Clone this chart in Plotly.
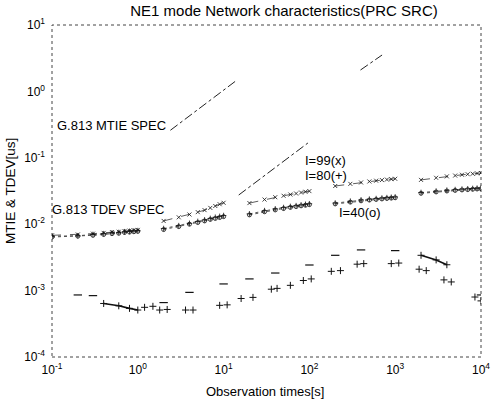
import plotly.graph_objects as go

# ---------------- data ----------------
tau_d1 = [0.1, 0.2, 0.3, 0.4, 0.5, 0.6, 0.7, 0.8, 0.9, 1.0]
tau_d2 = [2, 3, 4, 5, 6, 7, 8, 9, 10]
tau_d3 = [20, 30, 40, 50, 60, 70, 80, 90, 100]
tau_d4 = [200, 300, 400, 500, 600, 700, 800, 900, 1000]
tau_d5 = [2000, 3000, 4000, 5000, 6000, 7000, 8000, 9000, 10000]

# MTIE I=99 (x)
mtie99_d1 = [0.0068, 0.0070, 0.0072, 0.0074, 0.0076, 0.0077, 0.0079, 0.0080, 0.0081, 0.0082]
mtie99_d2 = [0.0112, 0.0127, 0.0140, 0.0152, 0.0163, 0.0176, 0.0188, 0.0200, 0.0210]
mtie99_d3 = [0.0208, 0.0235, 0.0255, 0.0268, 0.0280, 0.0290, 0.0300, 0.0308, 0.0315]
mtie99_d4 = [0.0376, 0.0405, 0.0425, 0.0440, 0.0452, 0.0462, 0.0470, 0.0477, 0.0483]
mtie99_d5 = [0.0465, 0.0500, 0.0525, 0.0540, 0.0555, 0.0565, 0.0575, 0.0582, 0.0590]

# MTIE I=80 (+)
mtie80_d1 = [0.0066, 0.0067, 0.0070, 0.0072, 0.0074, 0.0075, 0.0077, 0.0078, 0.0079, 0.0080]
mtie80_d2 = [0.0086, 0.0095, 0.0103, 0.0110, 0.0116, 0.0122, 0.0127, 0.0131, 0.0135]
mtie80_d3 = [0.0143, 0.0160, 0.0170, 0.0178, 0.0185, 0.0190, 0.0195, 0.0199, 0.0203]
mtie80_d4 = [0.0208, 0.0222, 0.0232, 0.0238, 0.0243, 0.0247, 0.0251, 0.0254, 0.0257]
mtie80_d5 = [0.0300, 0.0315, 0.0325, 0.0332, 0.0337, 0.0341, 0.0345, 0.0348, 0.0350]

# MTIE I=40 (o)
mtie40_d1 = [0.0064, 0.0066, 0.0068, 0.0070, 0.0072, 0.0073, 0.0075, 0.0076, 0.0077, 0.0078]
mtie40_d2 = [0.0083, 0.0092, 0.0100, 0.0106, 0.0112, 0.0118, 0.0122, 0.0126, 0.0130]
mtie40_d3 = [0.0138, 0.0154, 0.0164, 0.0172, 0.0179, 0.0184, 0.0189, 0.0193, 0.0197]
mtie40_d4 = [0.0202, 0.0215, 0.0225, 0.0231, 0.0236, 0.0240, 0.0244, 0.0247, 0.0250]
mtie40_d5 = [0.0292, 0.0306, 0.0316, 0.0323, 0.0328, 0.0332, 0.0336, 0.0339, 0.0342]

# TDEV (upper set of points)
tdev_hi_tau = [0.2, 0.3, 2, 4, 10, 20, 40, 100, 200, 400, 1000, 10000]
tdev_hi_val = [8.6e-4, 8.4e-4, 6.6e-4, 9.4e-4, 1.26e-3, 1.5e-3, 1.84e-3, 2.43e-3, 3.4e-3, 4.1e-3, 4.0e-3, 8.6e-4]
tdev_hi_seg_tau = [2000, 3000, 4000]
tdev_hi_seg_val = [3.4e-3, 2.9e-3, 2.45e-3]

# TDEV (lower set of points)
tdev_lo_tau = [1.2, 1.5, 1.8, 2.2, 3.6, 4.4, 9, 11, 16, 22, 36, 42, 60, 85, 105, 180, 230, 360, 430, 900, 1100, 1900, 2300, 3700, 4500, 8500, 10000]
tdev_lo_val = [5.6e-4, 5.8e-4, 5.1e-4, 5.2e-4, 5.1e-4, 5.1e-4, 6.0e-4, 6.1e-4, 7.6e-4, 7.9e-4, 1.05e-3, 1.08e-3, 1.2e-3, 1.42e-3, 1.5e-3, 1.95e-3, 2.0e-3, 2.5e-3, 2.55e-3, 2.55e-3, 2.6e-3, 2.1e-3, 2.0e-3, 1.45e-3, 1.35e-3, 8.0e-4, 7.0e-4]
tdev_lo_seg_tau = [0.4, 0.6, 0.8, 1.0]
tdev_lo_seg_val = [6.4e-4, 5.9e-4, 5.4e-4, 5.1e-4]

# G.813 spec lines
mtie_spec_a_tau = [2.4, 14]
mtie_spec_a_val = [0.26, 1.45]
mtie_spec_b_tau = [394, 703]
mtie_spec_b_val = [2.1, 3.53]
tdev_spec_tau = [15, 96]
tdev_spec_val = [0.0275, 0.167]

x_tick_vals = [0.1, 1, 10, 100, 1000, 10000]
x_tick_text = ["10<sup>-1</sup>", "10<sup>0</sup>", "10<sup>1</sup>", "10<sup>2</sup>", "10<sup>3</sup>", "10<sup>4</sup>"]
y_tick_vals = [1e-4, 1e-3, 1e-2, 1e-1, 1, 10]
y_tick_text = ["10<sup>-4</sup>", "10<sup>-3</sup>", "10<sup>-2</sup>", "10<sup>-1</sup>", "10<sup>0</sup>", "10<sup>1</sup>"]

# ---------------- figure ----------------
def join(parts):
    out = []
    for i, p in enumerate(parts):
        if i:
            out.append(None)
        out.extend(p)
    return out

INK = "#111"
taus = join([tau_d1, tau_d2, tau_d3, tau_d4, tau_d5])
fig = go.Figure()

series = [
    (join([mtie99_d1, mtie99_d2, mtie99_d3, mtie99_d4, mtie99_d5]), "x-thin", "dash", "I=99"),
    (join([mtie80_d1, mtie80_d2, mtie80_d3, mtie80_d4, mtie80_d5]), "cross-thin", "dot", "I=80"),
    (join([mtie40_d1, mtie40_d2, mtie40_d3, mtie40_d4, mtie40_d5]), "circle-open", "dot", "I=40"),
]
for vals, sym, dash, name in series:
    fig.add_trace(go.Scatter(
        x=taus, y=vals, mode="lines+markers", name=name,
        line=dict(color="#333", width=0.8, dash=dash),
        marker=dict(symbol=sym, size=4, color=INK, line=dict(width=0.8, color=INK)),
        connectgaps=False,
    ))

fig.add_trace(go.Scatter(
    x=tdev_hi_tau, y=tdev_hi_val, mode="markers",
    marker=dict(symbol="line-ew-open", size=6, color=INK, line=dict(width=1.2, color=INK)),
))
fig.add_trace(go.Scatter(
    x=tdev_hi_seg_tau, y=tdev_hi_seg_val, mode="lines+markers",
    line=dict(color=INK, width=1.6),
    marker=dict(symbol="cross-thin", size=5, color=INK, line=dict(width=1, color=INK)),
))
fig.add_trace(go.Scatter(
    x=tdev_lo_tau, y=tdev_lo_val, mode="markers",
    marker=dict(symbol="cross-thin", size=5, color=INK, line=dict(width=1, color=INK)),
))
fig.add_trace(go.Scatter(
    x=tdev_lo_seg_tau, y=tdev_lo_seg_val, mode="lines+markers",
    line=dict(color=INK, width=1.6),
    marker=dict(symbol="cross-thin", size=5, color=INK, line=dict(width=1, color=INK)),
))

for xs, ys in [(mtie_spec_a_tau, mtie_spec_a_val), (mtie_spec_b_tau, mtie_spec_b_val), (tdev_spec_tau, tdev_spec_val)]:
    fig.add_trace(go.Scatter(
        x=xs, y=ys, mode="lines",
        line=dict(color="#222", width=1, dash="dashdot"),
    ))

font = "Liberation Sans, Arial, sans-serif"
anns = [
    dict(text="G.813 MTIE SPEC", x=0.347, y=-0.521, xanchor="right"),
    dict(text="G.813 TDEV SPEC", x=0.324, y=-1.786, xanchor="right"),
    dict(text="I=99(x)", x=1.922, y=-1.048, xanchor="left"),
    dict(text="I=80(+)", x=1.922, y=-1.274, xanchor="left"),
    dict(text="I=40(o)", x=2.322, y=-1.831, xanchor="left"),
]
for a in anns:
    fig.add_annotation(xref="x", yref="y", yanchor="middle", showarrow=False,
                       font=dict(size=13, color="#000", family=font), **a)

# axis titles
fig.add_annotation(text="Observation times[s]", xref="paper", yref="paper",
                   x=0.498, y=-0.105, xanchor="center", yanchor="middle",
                   showarrow=False, font=dict(size=13, color="#000", family=font))
fig.add_annotation(text="MTIE & TDEV[us]", xref="paper", yref="paper",
                   x=-0.098, y=0.5, xanchor="center", yanchor="middle", textangle=-90,
                   showarrow=False, font=dict(size=13.5, color="#000", family=font))

fig.add_shape(type="rect", xref="paper", yref="paper", x0=0, y0=0, x1=1, y1=1,
              line=dict(color="#444", width=1, dash="dot"), layer="below")

fig.update_layout(
    width=500, height=401,
    margin=dict(l=52, r=10, t=25, b=44),
    paper_bgcolor="white", plot_bgcolor="white",
    showlegend=False,
    font=dict(family=font, size=13, color="#000"),
    title=dict(text="NE1 mode Network characteristics(PRC SRC)", x=0.568, xanchor="center",
               y=0.9726, yanchor="middle", yref="container", font=dict(size=15)),
    xaxis=dict(type="log", range=[-1, 4], tickvals=x_tick_vals, ticktext=x_tick_text,
               showgrid=False, zeroline=False, showline=False, ticks="",
               ticklabelstandoff=4, tickfont=dict(size=12)),
    yaxis=dict(type="log", range=[-4, 1], tickvals=y_tick_vals, ticktext=y_tick_text,
               showgrid=False, zeroline=False, showline=False, ticks="",
               ticklabelstandoff=6, tickfont=dict(size=12)),
)

fig.write_html("out.html", config={"displayModeBar": False},
               post_script="document.body.style.margin='0';document.body.style.overflow='hidden';")
